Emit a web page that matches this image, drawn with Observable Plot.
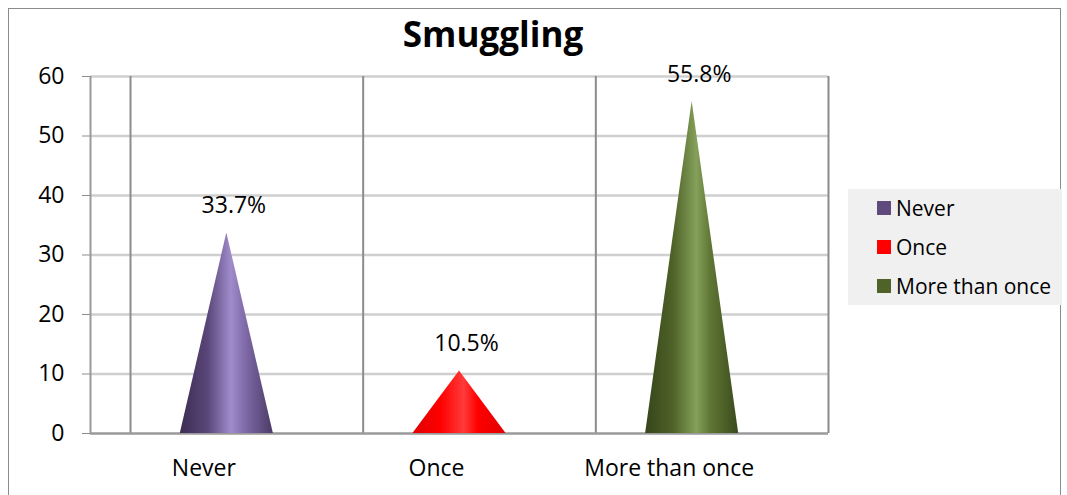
<!DOCTYPE html>
<html>
<head>
<meta charset="utf-8">
<script src="https://cdn.jsdelivr.net/npm/d3@7"></script>
<script src="https://cdn.jsdelivr.net/npm/@observablehq/plot@0.6"></script>
<style>
  body { margin: 0; background: #fff; font-family: "Open Sans", sans-serif; }
  #wrap { position: relative; width: 1067px; height: 495px; overflow: hidden; }
  #border { position: absolute; left: 8px; top: 8px; width: 1053px; height: 520px; border: 1.5px solid #8c8c8c; box-sizing: border-box; }
  #title { position: absolute; left: 0; width: 986px; top: 10px; text-align: center; font-weight: bold; font-size: 35px; line-height: 48px; color: #000; }
  #legend { position: absolute; left: 848px; top: 189px; width: 214px; height: 116px; background: #f0f0f0; }
  .row { position: absolute; left: 29px; height: 26px; display: flex; align-items: center; font-size: 21px; color: #000; white-space: nowrap; }
  .sw { width: 14px; height: 14px; margin-right: 5px; }
  #chart { position: absolute; left: 0; top: 0; }
</style>
</head>
<body>
<div id="wrap">
  <div id="border"></div>
  <div id="chart"></div>
  <div id="title">Smuggling</div>
  <div id="legend"></div>
</div>
<script>
const categories = ["Never", "Once", "More than once"];
const values = [33.7, 10.5, 55.8];
const valueLabels = ["33.7%", "10.5%", "55.8%"];
const yTicks = [0, 10, 20, 30, 40, 50, 60];
const colors = ["#604a7b", "#ff0000", "#4f6228"];
const gradients = [
  ["#3b2d52", "#5a4679", "#a08ccb", "#806aa8", "#4a3a66"],
  ["#e00000", "#ff0000", "#ff3a3a", "#ff0000", "#e00000"],
  ["#35451a", "#4f6228", "#84a05a", "#5f7634", "#3a4a1c"]
];

const idx = categories.map((_, i) => i);
const cones = idx.map(i => [
  {x: i - 0.2, y: 0},
  {x: i, y: values[i]},
  {x: i + 0.2, y: 0}
]);
const labelData = idx.map(i => ({x: i, y: values[i], t: valueLabels[i]}));

const W = 1067, H = 495;
const plot = Plot.plot({
  width: W, height: H,
  marginLeft: 90, marginRight: 239, marginTop: 76, marginBottom: 62,
  style: {fontFamily: "Open Sans, sans-serif", fontSize: "22px", color: "#000", background: "transparent"},
  x: {type: "linear", domain: [-0.586, 2.586], label: null},
  y: {domain: [0, 60], label: null},
  marks: [
    Plot.ruleY(yTicks.filter(d => d > 0), {stroke: "#cfcfcf", strokeWidth: 2.5}),
    Plot.ruleX([-0.5, 0.5, 1.5, 2.5], {dx: 20, y1: 0, y2: 60, stroke: "#8c8c8c", strokeWidth: 2}),
    Plot.ruleY([0], {stroke: "#9a9a9a", strokeWidth: 2.5}),
    Plot.ruleX([-0.586], {y1: 0, y2: 60, stroke: "#9a9a9a", strokeWidth: 2}),
    ...cones.map((c, i) => Plot.areaY(c, {x: "x", y: "y", fill: `url(#cone${i})`})),
    Plot.text(labelData, {x: "x", y: "y", text: "t", dy: -27, dx: 7, fontSize: 23, fill: "#000"}),
    Plot.axisY(yTicks, {tickSize: 8, tickPadding: 18, stroke: "#8c8c8c", fontSize: 23, fill: "#000", label: null}),
    Plot.axisX(idx, {tickSize: 0, tickPadding: 26, dx: -23, tickFormat: i => categories[i], fontSize: 23, fill: "#000", label: null})
  ]
});

const svg = d3.select(plot);
const defs = svg.insert("defs", ":first-child");
gradients.forEach((g, i) => {
  const lg = defs.append("linearGradient").attr("id", `cone${i}`).attr("x1", "0").attr("x2", "1").attr("y1", "0").attr("y2", "0");
  const offs = [0, 0.3, 0.55, 0.7, 1];
  g.forEach((c, j) => lg.append("stop").attr("offset", offs[j]).attr("stop-color", c));
});
document.getElementById("chart").appendChild(plot);

const legend = document.getElementById("legend");
categories.forEach((c, i) => {
  const row = document.createElement("div");
  row.className = "row";
  row.style.top = (6 + i * 39) + "px";
  const sw = document.createElement("div");
  sw.className = "sw";
  sw.style.background = colors[i];
  row.appendChild(sw);
  const t = document.createElement("span");
  t.textContent = c;
  row.appendChild(t);
  legend.appendChild(row);
});
</script>
</body>
</html>
